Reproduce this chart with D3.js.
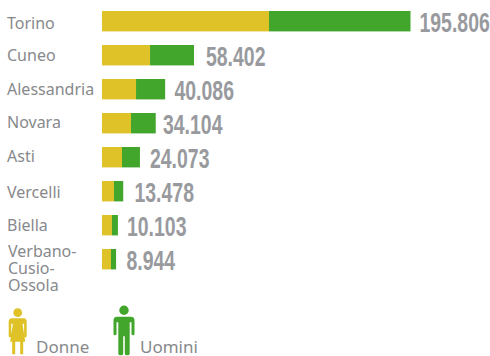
<!DOCTYPE html>
<html>
<head>
<meta charset="utf-8">
<script src="https://cdn.jsdelivr.net/npm/d3@7"></script>
<style>
  html, body { margin: 0; padding: 0; background: #fff; }
  svg { display: block; }
  .label { font-family: "Noto Sans", sans-serif; font-size: 16px; fill: #87898c; }
  .total { font-family: "Liberation Sans", sans-serif; font-weight: bold; font-size: 27px; fill: #989a9e; }
  .legend { font-family: "Noto Sans", sans-serif; font-size: 17px; fill: #87898c; }
</style>
</head>
<body>
<div id="chart"></div>
<script>
var categories = ["Torino", "Cuneo", "Alessandria", "Novara", "Asti", "Vercelli", "Biella", "Verbano-Cusio-Ossola"];
var donne = [106000, 30500, 21600, 18400, 12700, 7600, 6300, 5700];
var totals = [195806, 58402, 40086, 34104, 24073, 13478, 10103, 8944];
var totalLabels = ["195.806", "58.402", "40.086", "34.104", "24.073", "13.478", "10.103", "8.944"];
var seriesNames = ["Donne", "Uomini"];
var seriesColors = ["#dfc228", "#42a62c"];

var svgWidth = 490;
var svgHeight = 356;

var svg = d3.select("#chart")
  .append("svg")
  .attr("width", svgWidth)
  .attr("height", svgHeight);

var xScale = d3.scaleLinear()
  .domain([0, 195806])
  .range([102, 410.5]);

var yScale = d3.scaleBand()
  .domain(categories)
  .range([4.2, 276.2])
  .paddingInner(0.4)
  .paddingOuter(0.2);

// the labels in the picture don't sit evenly against the bars
var labelY = d3.scaleOrdinal()
  .domain(categories)
  .range([29, 61, 95, 128, 162, 198, 231]);

var totalX = d3.scaleOrdinal()
  .domain(categories)
  .range([419.5, 206, 174.5, 163, 150, 134.5, 127, 126.5]);

// yellow from zero, green stacked on top of it
svg.selectAll(".donne")
  .data(categories)
  .enter().append("rect")
  .attr("class", "donne")
  .attr("x", xScale(0))
  .attr("y", d => yScale(d))
  .attr("width", (d, i) => xScale(donne[i]) - xScale(0))
  .attr("height", yScale.bandwidth())
  .attr("fill", seriesColors[0]);

svg.selectAll(".uomini")
  .data(categories)
  .enter().append("rect")
  .attr("class", "uomini")
  .attr("x", (d, i) => xScale(donne[i]))
  .attr("y", d => yScale(d))
  .attr("width", (d, i) => xScale(totals[i]) - xScale(donne[i]))
  .attr("height", yScale.bandwidth())
  .attr("fill", seriesColors[1]);

// no condensed face installed, so squeeze the bold one
svg.selectAll(".total")
  .data(categories)
  .enter().append("text")
  .attr("class", "total")
  .attr("transform", d => `translate(${totalX(d)}, ${yScale(d) + yScale.bandwidth() + 0.5}) scale(0.72, 1)`)
  .text((d, i) => totalLabels[i]);

svg.selectAll(".label")
  .data(categories.slice(0, 7))
  .enter().append("text")
  .attr("class", "label")
  .attr("x", 7)
  .attr("y", d => labelY(d))
  .text(d => d);

// last category is wrapped over three lines
var lastLabel = svg.append("text")
  .attr("class", "label")
  .attr("x", 8)
  .attr("y", 257);
["Verbano-", "Cusio-", "Ossola"].forEach(function(t, i) {
  lastLabel.append("tspan")
    .attr("x", 8)
    .attr("dy", i == 0 ? 0 : 17)
    .text(t);
});

// legend figures, origin at the centre of the head
var woman = svg.append("g")
  .attr("transform", "translate(17.7, 312.7)")
  .attr("fill", seriesColors[0]);
woman.append("circle").attr("r", 4.4);
woman.append("path").attr("d", "M-6 5.5 H6 Q9 5.5 9 9 V23 Q9 24.8 7.7 24.8 Q6.4 24.8 6.4 23 V11 H4.8 L7.5 29 H5.5 V41.5 H2.5 V29 H-2.5 V41.5 H-5.5 V29 H-7.5 L-4.8 11 H-6.4 V23 Q-6.4 24.8 -7.7 24.8 Q-9 24.8 -9 23 V9 Q-9 5.5 -6 5.5 Z");

var man = svg.append("g")
  .attr("transform", "translate(124, 310.3)")
  .attr("fill", seriesColors[1]);
man.append("circle").attr("r", 4.7);
man.append("path").attr("d", "M-7 6.4 H7 Q10.5 6.4 10.5 10 V23.5 Q10.5 25 9 25 Q7.5 25 7.5 23.5 V12 H5.7 V43.5 Q5.7 45 3.3 45 Q0.8 45 0.8 43.5 V26 H-0.8 V43.5 Q-0.8 45 -3.3 45 Q-5.7 45 -5.7 43.5 V12 H-7.5 V23.5 Q-7.5 25 -9 25 Q-10.5 25 -10.5 23.5 V10 Q-10.5 6.4 -7 6.4 Z");

svg.selectAll(".legend")
  .data(seriesNames)
  .enter().append("text")
  .attr("class", "legend")
  .attr("x", (d, i) => i == 0 ? 36 : 140)
  .attr("y", 353)
  .text(d => d);
</script>
</body>
</html>
